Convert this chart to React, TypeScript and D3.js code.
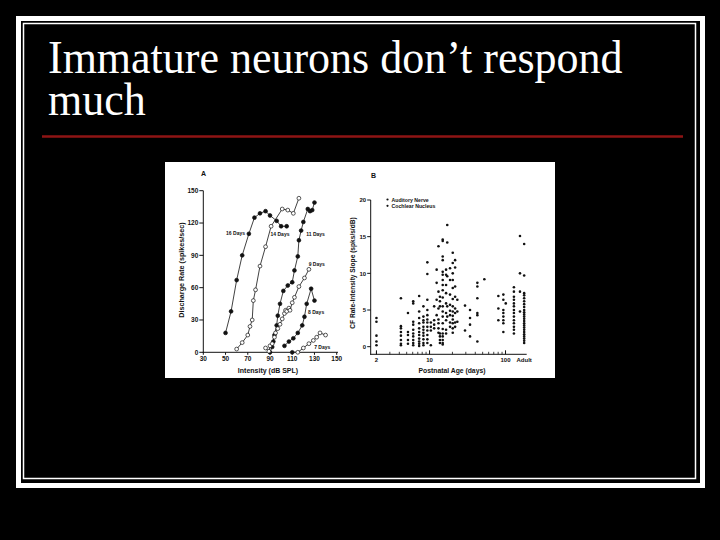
import React from 'react';
import * as d3 from 'd3';

// ---------- Panel A data: discharge rate vs intensity ----------
const intensityTicks = [30, 50, 70, 90, 110, 130, 150];
const rateTicks = [0, 30, 60, 90, 120, 150];

const days16: [number, number][] = [[50, 18], [55, 38], [60, 67], [65, 90], [71, 110], [76, 125], [81, 129], [86, 131], [90, 127], [96, 122], [100, 117], [105, 117]];
const days14: [number, number][] = [[60, 3], [65, 9], [70, 16], [72, 24], [74, 30], [75, 48], [77, 58], [81, 80], [86, 98], [91, 117], [101, 133], [106, 132], [111, 129], [116, 143]];
const days11: [number, number][] = [[90, 0], [92, 5], [93, 10], [94, 16], [96, 25], [97, 34], [99, 45], [102, 57], [106, 62], [110, 65], [112, 76], [115, 89], [116, 104], [118, 113], [120, 121], [124, 133], [126, 131], [128, 132], [130, 139]];
const days9: [number, number][] = [[86, 4], [89, 1], [90, 6], [92, 8], [94, 14], [95, 18], [97, 22], [99, 26], [101, 31], [103, 36], [104, 39], [105, 38], [107, 41], [108, 39], [110, 46], [112, 51], [116, 61], [121, 69], [125, 77]];
const days8: [number, number][] = [[103, 6], [107, 10], [111, 13], [115, 18], [119, 25], [121, 33], [123, 45], [127, 59], [130, 48]];
const days7: [number, number][] = [[110, 0], [115, 0], [120, 4], [125, 8], [129, 11], [132, 14], [135, 18], [140, 16]];
const days7Filled: [number, number][] = [[110, 0]];

const curveNames = ['16 Days', '14 Days', '11 Days', '9 Days', '8 Days', '7 Days'];
const curveData = [days16, days14, days11, days9, days8, days7];
const curveFilled = [true, false, true, false, true, false];
// label anchor (data coordinates, centre of the text)
const labelAt: [number, number][] = [[59, 110.5], [99, 109.5], [131, 109.5], [132, 81.5], [131.5, 37.5], [137, 4.5]];

// ---------- Panel B data: CF rate-intensity slope vs postnatal age ----------
const ageTicks = [2, 10, 100];
const slopeTicks = [0, 5, 10, 15, 20];
const adultAge = 176;

const auditoryNerve: [number, number[]][] = [
  [2, [3.9, 3.4, 1.5, 0.7, 0.2]],
  [4.2, [6.6, 2.8, 2.5, 2.0, 1.5, 0.9, 0.4, 0.2]],
  [5.2, [4.6, 2.0, 1.6, 0.9, 0.4]],
  [6.1, [6.2, 5.9, 3.4, 3.0, 2.3, 1.8, 1.4, 0.9, 0.5, 0.2]],
  [7.3, [6.9, 4.8, 3.9, 3.2, 2.5, 2.0, 1.6, 1.1, 0.7, 0.4, 0.1]],
  [8.3, [5.5, 4.1, 3.6, 3.3, 2.7, 2.3, 1.9, 1.5, 1.0, 0.5, 0.2]],
  [9.35, [11.5, 9.9, 6.4, 5.0, 4.3, 3.7, 3.3, 2.7, 2.2, 1.6, 1.0, 0.5]],
  [10.4, [3.3, 2.7, 2.2, 0.2]],
  [11.5, [5.5, 3.6, 3.0, 2.5]],
  [12.4, [10.5, 8.7, 6.4, 4.3]],
  [13.1, [13.7, 7.5, 5.2, 3.7, 3.2, 2.5, 1.9]],
  [13.7, [6.8, 6.2, 5.5, 1.8, 1.4, 0.9, 0.5]],
  [14.9, [14.6, 14.4, 12.3, 11.8, 10.2, 9.8, 9.1, 8.4, 7.7, 6.7, 5.5, 4.8, 4.1, 3.2, 2.4, 1.8, 1.4, 0.9, 0.5, 0.3]],
  [16.5, [10.5, 9.8, 8.4, 7.3, 5.9, 4.6, 3.6, 2.3, 1.8]],
  [17.1, [16.6, 14.2, 9.6, 5.5, 4.1]],
  [18.6, [10.7, 9.1, 7.1, 5.7, 4.9, 4.3, 3.3, 2.7]],
  [20.2, [12.8, 11.4, 10.0, 9.1, 8.0, 6.5, 5.5, 4.8, 4.2, 3.7, 3.2, 2.5, 1.9]],
  [21.7, [11.8, 10.8, 8.2, 6.8, 5.2, 4.6, 3.3, 2.7]],
  [23.2, [6.4, 4.8, 3.4]],
];
const cochlearNucleus: [number, number[]][] = [
  [29.3, [5.6, 2.2]],
  [34.1, [5.0, 3.9, 3.0, 1.4]],
  [42.6, [8.7, 8.2, 6.6, 4.6, 4.3, 0.7]],
  [52.6, [9.2]],
  [80.5, [6.9, 5.2, 3.6]],
  [93.6, [7.1, 6.4, 5.0, 4.6, 4.1, 3.6, 3.2, 2.0]],
  [100.7, [5.9]],
  [129, [8.1, 7.5, 6.8, 6.4, 5.9, 5.5, 5.0, 4.6, 4.1, 3.6, 3.2, 2.7, 2.3, 1.8]],
  [155, [15.1, 10.0, 7.5, 4.8]],
  [adultAge, [14.0, 9.7, 7.3, 7.0, 6.6, 6.2, 5.8, 5.4, 5.0, 4.7, 4.4, 4.1, 3.8, 3.5, 3.2, 2.9, 2.6, 2.3, 2.0, 1.7, 1.4, 1.1, 0.8, 0.5]],
];
const legendNames = ['Auditory Nerve', 'Cochlear Nucleus'];

const titleLines = ['Immature neurons don\u2019t respond', 'much'];

const SANS = '"Liberation Sans", Arial, Helvetica, sans-serif';

export default function App() {
  // Panel A scales
  const xA = d3.scaleLinear().domain([30, 150]).range([203.3, 336.7]);
  const yA = d3.scaleLinear().domain([0, 150]).range([352.3, 190.7]);
  const lineA = d3.line<[number, number]>().x(d => xA(d[0])).y(d => yA(d[1]));

  // Panel B scales
  const xB = d3.scaleLog().domain([1.68, 190]).range([370.7, 526.7]);
  const yB = d3.scaleLinear().domain([-1.04, 20]).range([354.3, 200]);
  const minorAges: number[] = [];
  for (let d = 2; d <= 9; d++) minorAges.push(d);
  for (let d = 20; d <= 90; d += 10) minorAges.push(d);

  const flat = (cols: [number, number[]][]) => cols.flatMap(([a, vs]) => vs.map(v => [a, v] as [number, number]));
  const nervePts = flat(auditoryNerve);
  const nucleusPts = flat(cochlearNucleus);

  return (
    <svg width={720} height={540} style={{ position: 'absolute', left: 0, top: 0 }}>
      <rect x={0} y={0} width={720} height={540} fill="#000" />
      {/* slide frame */}
      <rect x={18.5} y={18.5} width={684} height={467} fill="none" stroke="#fff" strokeWidth={5} />
      <rect x={23.5} y={23.5} width={672} height={455} fill="none" stroke="#fff" strokeWidth={1.5} />
      {/* title */}
      <g fill="#fff" fontFamily='"Liberation Serif", "Times New Roman", serif' fontSize={44}>
        {titleLines.map((t, i) => (
          <text key={i} transform={`translate(48,${73 + i * 42}) scale(1,1.07)`}>{t}</text>
        ))}
      </g>
      <line x1={42} x2={683} y1={136.5} y2={136.5} stroke="#8e1414" strokeWidth={2.5} />

      {/* embedded figure */}
      <rect x={165} y={162} width={390} height={216} fill="#fff" />
      <g fontFamily={SANS} fontWeight="bold" fill="#111">
        {/* ---- Panel A ---- */}
        <text x={201} y={176} fontSize={7}>A</text>
        <line x1={xA(30)} x2={xA(30)} y1={yA(0) + 0.5} y2={yA(150)} stroke="#111" strokeWidth={1} />
        <line x1={xA(30) - 0.5} x2={338} y1={yA(0)} y2={yA(0)} stroke="#111" strokeWidth={1} />
        {rateTicks.map(t => (
          <g key={t}>
            <line x1={xA(30) - 4} x2={xA(30)} y1={yA(t)} y2={yA(t)} stroke="#111" strokeWidth={1} />
            <text x={xA(30) - 5} y={yA(t) + 2.3} fontSize={6.5} textAnchor="end">{t}</text>
          </g>
        ))}
        {intensityTicks.map(t => (
          <g key={t}>
            <line x1={xA(t)} x2={xA(t)} y1={yA(0)} y2={yA(0) + 2.5} stroke="#111" strokeWidth={1} />
            <text x={xA(t)} y={yA(0) + 9} fontSize={6.5} textAnchor="middle">{t}</text>
          </g>
        ))}
        <text x={268} y={373} fontSize={7} textAnchor="middle">Intensity (dB SPL)</text>
        <text transform="translate(183.5,270) rotate(-90)" fontSize={7.2} textAnchor="middle">Discharge Rate (spikes/sec)</text>
        {curveData.map((pts, i) => (
          <g key={i}>
            <path d={lineA(pts) || ''} fill="none" stroke="#111" strokeWidth={0.8} />
            {pts.map((p, j) => (
              <circle key={j} cx={xA(p[0])} cy={yA(p[1])} r={1.9}
                fill={curveFilled[i] ? '#111' : '#fff'} stroke="#111" strokeWidth={0.7} />
            ))}
          </g>
        ))}
        {days7Filled.map((p, j) => (
          <circle key={j} cx={xA(p[0])} cy={yA(p[1])} r={1.9} fill="#111" />
        ))}
        {curveNames.map((n, i) => (
          <text key={n} x={xA(labelAt[i][0])} y={yA(labelAt[i][1]) + 1.8} fontSize={5} textAnchor="middle">{n}</text>
        ))}

        {/* ---- Panel B ---- */}
        <text x={371} y={178} fontSize={7}>B</text>
        <line x1={xB(1.68)} x2={xB(1.68)} y1={yB(-1.04) + 0.5} y2={yB(20)} stroke="#111" strokeWidth={1} />
        <line x1={xB(1.68) - 0.5} x2={xB(190)} y1={yB(-1.04)} y2={yB(-1.04)} stroke="#111" strokeWidth={1} />
        {slopeTicks.map(t => (
          <g key={t}>
            <line x1={xB(1.68) - 3.5} x2={xB(1.68)} y1={yB(t)} y2={yB(t)} stroke="#111" strokeWidth={1} />
            <text x={xB(1.68) - 4.5} y={yB(t) + 2.2} fontSize={6} textAnchor="end">{t}</text>
          </g>
        ))}
        {minorAges.map(t => (
          <line key={t} x1={xB(t)} x2={xB(t)} y1={yB(-1.04)} y2={yB(-1.04) - 2.5} stroke="#111" strokeWidth={0.8} />
        ))}
        {ageTicks.map(t => (
          <g key={t}>
            <line x1={xB(t)} x2={xB(t)} y1={yB(-1.04)} y2={yB(-1.04) - 4} stroke="#111" strokeWidth={1} />
            <text x={xB(t)} y={yB(-1.04) + 7.5} fontSize={6} textAnchor="middle">{t}</text>
          </g>
        ))}
        <text x={xB(adultAge)} y={yB(-1.04) + 7.5} fontSize={6} textAnchor="middle">Adult</text>
        <text x={452} y={373} fontSize={6.8} textAnchor="middle">Postnatal Age (days)</text>
        <text transform="translate(355,273) rotate(-90)" fontSize={6.6} textAnchor="middle">CF Rate-Intensity Slope (spks/s/dB)</text>
        {legendNames.map((n, i) => (
          <g key={n}>
            <circle cx={387.5} cy={199.5 + i * 6.3} r={1.1} fill="#111" />
            <text x={391.5} y={201.5 + i * 6.3} fontSize={5.2}>{n}</text>
          </g>
        ))}
        {nervePts.map((p, i) => (
          <circle key={'n' + i} cx={xB(p[0])} cy={yB(p[1])} r={1.3} fill="#111" />
        ))}
        {nucleusPts.map((p, i) => (
          <circle key={'c' + i} cx={xB(p[0])} cy={yB(p[1])} r={1.3} fill="#111" />
        ))}
      </g>
    </svg>
  );
}
